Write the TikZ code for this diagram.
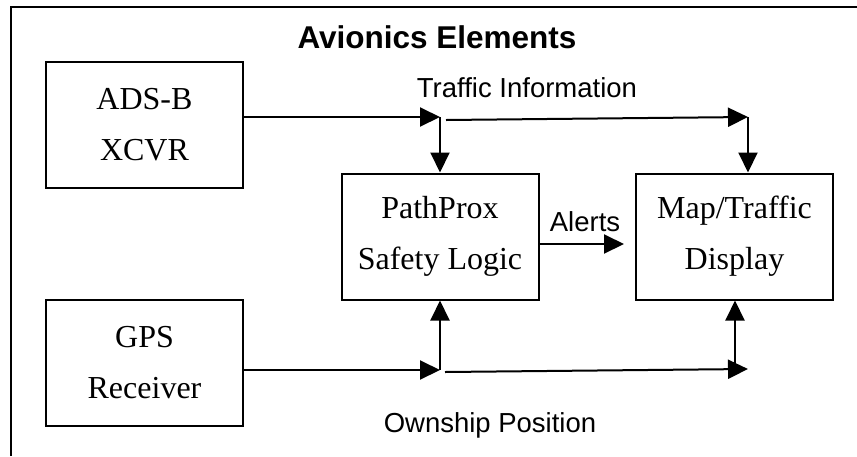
\documentclass[tikz,border=0pt]{standalone}
\usepackage{fontspec}
\setmainfont{Liberation Serif}
\newfontfamily\arialfont{Liberation Sans}
\usetikzlibrary{arrows.meta}
\begin{document}
\begin{tikzpicture}[x=1pt,y=-1pt,
  blk/.style={draw, line width=2pt, minimum width=197pt, minimum height=126pt, inner sep=0pt, align=center, font=\fontsize{32}{51}\selectfont},
  arr/.style={line width=2pt, -{Triangle[length=20pt,width=19pt]}},
  lbl/.style={font=\arialfont\fontsize{27.5}{30}\selectfont, inner sep=0pt},
  ttl/.style={font=\arialfont\bfseries\fontsize{31.5}{34}\selectfont, inner sep=0pt}]
\useasboundingbox (0,0) rectangle (857,456);
\draw[line width=2.5pt] (11,456) -- (11,7) -- (857,7);
\node[ttl] (title) at (437,37) {Avionics Elements};
\node[blk] (ads) at (144.5,124.5) {ADS-B\\XCVR};
\node[blk] (gps) at (144.5,362.5) {GPS\\Receiver};
\node[blk] (pp) at (440,236.5) {PathProx\\Safety Logic};
\node[blk] (map) at (734.5,236.5) {Map/Traffic\\Display};
\node[lbl] (ti) at (527,88) {Traffic Information};
\node[lbl] (al) at (585,222) {Alerts};
\node[lbl] (op) at (490,425) {Ownship Position};
\coordinate (j1) at (440,117);
\coordinate (t1) at (446,120);
\coordinate (t2) at (748,117);
\coordinate (j2) at (440,370);
\coordinate (o1) at (445,372);
\coordinate (o2) at (748,369);
\coordinate (v) at (735,369);
\coordinate (a) at (624,244);
\draw[arr] (ads.east |- j1) -- (j1);
\draw[arr] (j1) -- (j1 |- pp.north);
\draw[arr] (t1) -- (t2);
\draw[arr] (t2) -- (t2 |- map.north);
\draw[arr] (gps.east |- j2) -- (j2);
\draw[arr] (j2) -- (j2 |- pp.south);
\draw[arr] (o1) -- (o2);
\draw[arr] (v) -- (v |- map.south);
\draw[arr] (pp.east |- a) -- (a);
\end{tikzpicture}
\end{document}
